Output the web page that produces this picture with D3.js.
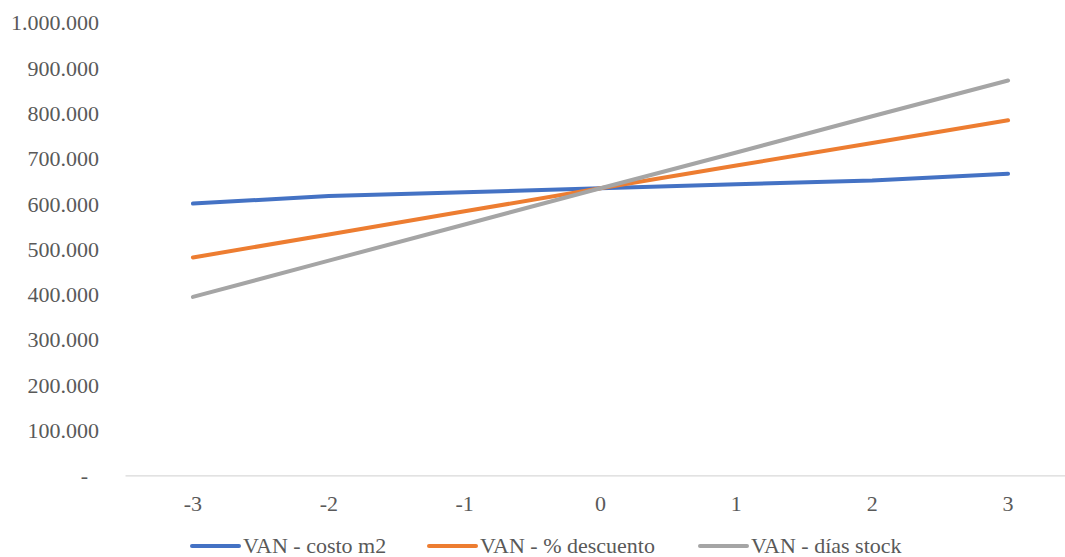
<!DOCTYPE html>
<html>
<head>
<meta charset="utf-8">
<script src="https://cdn.jsdelivr.net/npm/d3@7"></script>
<style>
  html, body { margin: 0; padding: 0; background: #ffffff; }
  svg { display: block; }
  svg text { font-family: "Liberation Serif", "Times New Roman", "DejaVu Serif", serif !important; fill: #595959; }
</style>
</head>
<body>
<svg id="chart" width="1065" height="557"></svg>
<script>
// Sensitivity steps on the horizontal axis
const steps = [-3, -2, -1, 0, 1, 2, 3];

// VAN per sensitivity step for each variable
const vanCostoM2 = [600000, 617000, 625000, 634000, 643000, 651000, 666000];
const vanDescuento = [481000, 532000, 583000, 634000, 684000, 734000, 784000];
const vanDiasStock = [394000, 474000, 554000, 634000, 713000, 793000, 872000];

const seriesNames = ["VAN - costo m2", "VAN - % descuento", "VAN - días stock"];
const yTicks = [0, 100000, 200000, 300000, 400000, 500000, 600000, 700000, 800000, 900000, 1000000];

const series = [
  { name: seriesNames[0], values: vanCostoM2, color: "#4472C4" },
  { name: seriesNames[1], values: vanDescuento, color: "#ED7D31" },
  { name: seriesNames[2], values: vanDiasStock, color: "#A5A5A5" }
];

const FONT = "22px";
const svg = d3.select("#chart");

const plot = { left: 125, right: 1076, top: 22.5, bottom: 475.3 };

const x = d3.scaleBand()
  .domain(steps)
  .range([plot.left, plot.right])
  .paddingInner(0)
  .paddingOuter(0);

const y = d3.scaleLinear()
  .domain([0, 1000000])
  .range([plot.bottom, plot.top]);

const es = d3.formatLocale({ decimal: ",", thousands: ".", grouping: [3], currency: ["$", ""] });
const fmt = es.format(",.0f");

// Y axis labels (no axis line, no gridlines)
const yAxis = d3.axisLeft(y)
  .tickValues(yTicks)
  .tickSize(0)
  .tickPadding(0)
  .tickFormat(d => d === 0 ? "-" : fmt(d));

const yG = svg.append("g")
  .attr("transform", "translate(99,0)")
  .call(yAxis);
yG.attr("font-family", null).attr("font-size", null);
yG.select(".domain").remove();
yG.selectAll("text")
  .attr("x", d => d === 0 ? -11 : 0)
  .attr("dy", "0.34em")
  .style("font-size", FONT);

// X axis with a light baseline
const xAxis = d3.axisBottom(x)
  .tickSize(0)
  .tickPadding(0)
  .tickFormat(d => String(d));

const xG = svg.append("g")
  .attr("transform", `translate(0,${plot.bottom})`)
  .call(xAxis);
xG.attr("font-family", null).attr("font-size", null);
xG.select(".domain")
  .attr("stroke", "#D9D9D9")
  .attr("stroke-width", 1.3);
xG.selectAll("text")
  .attr("y", 28)
  .attr("dy", "0.34em")
  .style("font-size", FONT);

// Lines
const line = d3.line()
  .x((d, i) => x(steps[i]) + x.bandwidth() / 2)
  .y(d => y(d));

svg.append("g")
  .selectAll("path")
  .data(series)
  .join("path")
  .attr("d", s => line(s.values))
  .attr("fill", "none")
  .attr("stroke", s => s.color)
  .attr("stroke-width", 4)
  .attr("stroke-linecap", "round")
  .attr("stroke-linejoin", "round");

// Legend
const legendX = [192, 429, 700];
const legend = svg.append("g").attr("transform", "translate(0,546)");
const items = legend.selectAll("g")
  .data(series)
  .join("g")
  .attr("transform", (d, i) => `translate(${legendX[i]},0)`);
items.append("line")
  .attr("x1", 0).attr("x2", 47)
  .attr("y1", 0).attr("y2", 0)
  .attr("stroke", d => d.color)
  .attr("stroke-width", 4)
  .attr("stroke-linecap", "round");
items.append("text")
  .attr("x", 51)
  .attr("y", 0)
  .attr("dy", "0.34em")
  .style("font-size", FONT)
  .text(d => d.name);
</script>
</body>
</html>
